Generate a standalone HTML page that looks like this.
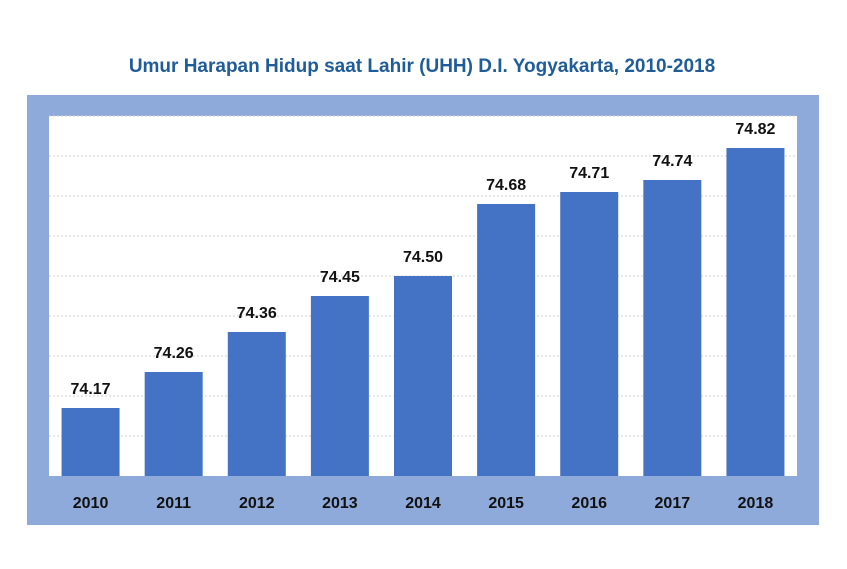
<!DOCTYPE html>
<html><head><meta charset="utf-8"><style>
body{margin:0;background:#fff;width:847px;height:564px;overflow:hidden;font-family:"Liberation Sans",sans-serif}
</style></head><body>
<svg width="847" height="564">
<text x="422" y="72" text-anchor="middle" font-size="19" font-weight="bold" fill="#1f5c99">Umur Harapan Hidup saat Lahir (UHH) D.I. Yogyakarta, 2010-2018</text>
<rect x="27" y="95" width="792" height="430" fill="#8eaadb"/>
<rect x="49" y="116" width="748" height="360" fill="#fff"/>
<g id="grid"></g><g id="bars"></g>
</svg>
<script>
const categories=["2010","2011","2012","2013","2014","2015","2016","2017","2018"];
const values=[74.17,74.26,74.36,74.45,74.50,74.68,74.71,74.74,74.82];
const labels=["74.17","74.26","74.36","74.45","74.50","74.68","74.71","74.74","74.82"];
const yMin=74.0,yMax=74.9,yStep=0.1;
const NS="http://www.w3.org/2000/svg";
const px=49,pw=748,py=116,ph=360;
const y=v=>py+ph-(v-yMin)/(yMax-yMin)*ph;
const band=pw/categories.length,bw=58;
const x=i=>px+band*i+(band-bw)/2;
const grid=document.getElementById('grid'),bars=document.getElementById('bars');
for(let v=yMin+yStep;v<=yMax+1e-9;v+=yStep){
 const l=document.createElementNS(NS,'line');
 
 
 l.setAttribute('x1',px);l.setAttribute('x2',px+pw);l.setAttribute('y1',y(v));l.setAttribute('y2',y(v));
 l.setAttribute('stroke','#d0d0d0');l.setAttribute('stroke-dasharray','2,2');grid.appendChild(l);
}
categories.forEach((c,i)=>{
 const r=document.createElementNS(NS,'rect');
 
 
 r.setAttribute('x',x(i));r.setAttribute('y',y(values[i]));r.setAttribute('width',bw);r.setAttribute('height',py+ph-y(values[i]));
 r.setAttribute('fill','#4472c4');bars.appendChild(r);
 const t=document.createElementNS(NS,'text');
 
 
 t.setAttribute('x',x(i)+bw/2);t.setAttribute('y',y(values[i])-14);t.setAttribute('text-anchor','middle');
 t.setAttribute('font-size','16');t.setAttribute('font-weight','bold');t.setAttribute('fill','#111');
 t.textContent=labels[i];bars.appendChild(t);
 const a=document.createElementNS(NS,'text');
 
 
 a.setAttribute('x',x(i)+bw/2);a.setAttribute('y',508);a.setAttribute('text-anchor','middle');
 a.setAttribute('font-size','16');a.setAttribute('font-weight','bold');a.setAttribute('fill','#111');
 a.textContent=c;bars.appendChild(a);
});
</script>
</body></html>
